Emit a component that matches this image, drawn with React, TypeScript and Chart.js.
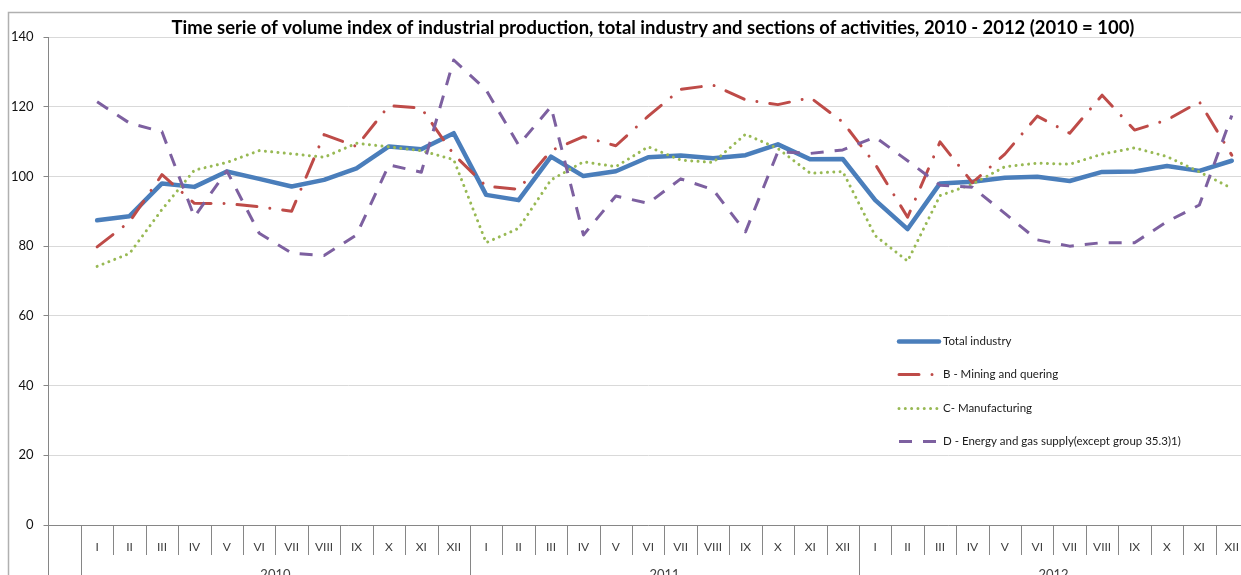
import React, { useEffect, useRef } from "react";
import { Chart, registerables } from "chart.js";

Chart.register(...registerables);

const TITLE =
  "Time serie of volume index of industrial production, total industry and sections of activities, 2010 - 2012 (2010 = 100)";

const months = ["I", "II", "III", "IV", "V", "VI", "VII", "VIII", "IX", "X", "XI", "XII"];
const years = ["2010", "2011", "2012"];
const categories = ["", ...months, ...months, ...months];

const yTicks = [0, 20, 40, 60, 80, 100, 120, 140];

const totalIndustry = [
  null,
  87.4, 88.6, 98.0, 97.0, 101.4, 99.3, 97.1, 99.0, 102.3, 108.6, 107.8, 112.4,
  94.7, 93.2, 105.7, 100.1, 101.5, 105.5, 106.0, 105.2, 106.1, 109.2, 104.9, 105.0,
  93.2, 84.9, 98.0, 98.5, 99.6, 99.9, 98.7, 101.3, 101.4, 103.0, 101.6, 104.5,
];
const mining = [
  null,
  79.8, 87.0, 100.5, 92.3, 92.2, 91.3, 90.0, 112.0, 108.6, 120.3, 119.6, 106.3,
  97.2, 96.3, 107.4, 111.4, 108.8, 117.3, 125.0, 126.2, 122.0, 120.6, 122.6, 115.6,
  103.5, 88.3, 109.9, 98.2, 106.4, 117.3, 112.4, 123.3, 113.3, 116.2, 121.4, 106.1,
];
const manufacturing = [
  null,
  74.2, 77.9, 90.5, 101.8, 104.0, 107.4, 106.5, 105.5, 109.5, 108.5, 107.4, 104.8,
  81.0, 85.1, 99.0, 104.2, 102.8, 108.5, 104.7, 104.0, 112.1, 108.0, 100.9, 101.4,
  83.0, 75.7, 94.5, 97.8, 102.8, 103.8, 103.5, 106.4, 108.2, 105.7, 101.3, 96.6,
];
const energy = [
  null,
  121.4, 115.3, 112.8, 88.4, 101.6, 83.7, 78.0, 77.3, 83.2, 103.3, 101.2, 133.4,
  124.8, 109.0, 120.0, 83.2, 94.4, 92.3, 99.3, 96.2, 84.1, 107.1, 106.6, 107.6,
  111.3, 104.5, 97.5, 96.9, 89.4, 81.8, 80.0, 81.0, 81.0, 87.0, 91.8, 117.5,
];

const seriesLabels = [
  "Total industry",
  "B - Mining and quering",
  "C- Manufacturing",
  "D - Energy and gas supply(except group 35.3)1)",
];

const CANVAS_W = 1260;
const CANVAS_H = 600;
const AXIS_COLOR = "#868686";
const FONT = "Lato, 'Open Sans', sans-serif";

const decorPlugin = {
  id: "decor",
  afterDraw(chart: any) {
    const ctx = chart.ctx;
    const xs = chart.scales.x;
    const area = chart.chartArea;
    const w = xs.getPixelForValue(1) - xs.getPixelForValue(0);
    const x0 = xs.getPixelForValue(0) - w / 2;
    ctx.save();

    // category separators
    ctx.strokeStyle = AXIS_COLOR;
    ctx.lineWidth = 1;
    ctx.setLineDash([]);
    for (let i = 0; i <= categories.length; i++) {
      const bx = Math.round(x0 + i * w) + 0.5;
      const long = i === 0 || (i >= 1 && (i - 1) % 12 === 0);
      ctx.beginPath();
      ctx.moveTo(bx, area.bottom);
      ctx.lineTo(bx, long ? chart.height : area.bottom + 30);
      ctx.stroke();
    }

    // month labels
    ctx.fillStyle = "#404040";
    ctx.font = `12px ${FONT}`;
    ctx.textAlign = "center";
    ctx.textBaseline = "middle";
    categories.forEach((l, i) => {
      if (l) ctx.fillText(l, xs.getPixelForValue(i), area.bottom + 22);
    });

    // year labels
    ctx.textBaseline = "top";
    ctx.font = `13px ${FONT}`;
    years.forEach((yr, k) => {
      const s = 1 + k * 12;
      const cx = (xs.getPixelForValue(s) + xs.getPixelForValue(s + 11)) / 2;
      ctx.fillText(yr, cx, area.bottom + 43);
    });

    // outer border
    ctx.strokeStyle = "#b0b0b0";
    ctx.lineWidth = 1.5;
    ctx.beginPath();
    ctx.moveTo(8.5, chart.height);
    ctx.lineTo(8.5, 12.5);
    ctx.lineTo(chart.width, 12.5);
    ctx.stroke();

    // title
    ctx.fillStyle = "#000";
    ctx.textBaseline = "middle";
    ctx.textAlign = "center";
    let size = 17;
    ctx.font = `bold ${size}px ${FONT}`;
    const mw = ctx.measureText(TITLE).width;
    size = Math.max(14, Math.min(19, (size * 964) / mw));
    ctx.font = `bold ${size.toFixed(2)}px ${FONT}`;
    ctx.fillText(TITLE, 653, 28);

    // legend
    const rows = [341.5, 374.5, 408.5, 441.5];
    ctx.textAlign = "left";
    ctx.font = `11.5px ${FONT}`;
    chart.data.datasets.forEach((ds: any, i: number) => {
      const y = rows[i];
      ctx.save();
      ctx.strokeStyle = ds.borderColor;
      ctx.lineWidth = ds.borderWidth;
      ctx.lineCap = ds.borderCapStyle || "butt";
      ctx.setLineDash(ds.borderDash || []);
      ctx.beginPath();
      ctx.moveTo(899, y);
      ctx.lineTo(939, y);
      ctx.stroke();
      ctx.restore();
      ctx.fillStyle = "#1a1a1a";
      ctx.fillText(ds.label, 943, y);
    });

    ctx.restore();
  },
};

export default function App() {
  const ref = useRef<HTMLCanvasElement>(null);

  useEffect(() => {
    if (!ref.current) return;
    const chart = new Chart(ref.current, {
      type: "line",
      data: {
        labels: categories,
        datasets: [
          {
            label: seriesLabels[0],
            data: totalIndustry,
            borderColor: "#4A7EBB",
            borderWidth: 4.5,
            borderJoinStyle: "round",
            borderCapStyle: "round",
            pointRadius: 0,
            tension: 0,
            order: 3,
          },
          {
            label: seriesLabels[1],
            data: mining,
            borderColor: "#BE4B48",
            borderWidth: 3,
            borderDash: [20, 13, 0.01, 13],
            borderJoinStyle: "round",
            borderCapStyle: "round",
            pointRadius: 0,
            tension: 0,
            order: 2,
          },
          {
            label: seriesLabels[2],
            data: manufacturing,
            borderColor: "#98B954",
            borderWidth: 3,
            borderDash: [0.01, 6.3],
            borderJoinStyle: "round",
            borderCapStyle: "round",
            pointRadius: 0,
            tension: 0,
            order: 1,
          },
          {
            label: seriesLabels[3],
            data: energy,
            borderColor: "#7D60A0",
            borderWidth: 3,
            borderDash: [13, 11],
            borderJoinStyle: "round",
            borderCapStyle: "butt",
            pointRadius: 0,
            tension: 0,
            order: 0,
          },
        ],
      } as any,
      options: {
        responsive: false,
        animation: false,
        devicePixelRatio: 1,
        layout: { padding: { left: 0, top: 37, right: CANVAS_W - 1248, bottom: CANVAS_H - 525 } },
        plugins: {
          legend: { display: false },
          title: { display: false },
          tooltip: { enabled: false },
        },
        scales: {
          x: {
            type: "category",
            offset: true,
            grid: { display: false },
            ticks: { display: false },
            border: { display: true, color: AXIS_COLOR, width: 1 },
            afterFit: (s: any) => {
              s.height = 0;
            },
          },
          y: {
            min: 0,
            max: 140,
            afterBuildTicks: (s: any) => {
              s.ticks = yTicks.map((v) => ({ value: v }));
            },
            afterFit: (s: any) => {
              s.width = 48.5;
            },
            grid: {
              color: "#d9d9d9",
              lineWidth: 1,
              drawTicks: true,
              tickLength: 5,
              tickColor: AXIS_COLOR,
            },
            border: { display: true, color: AXIS_COLOR, width: 1 },
            ticks: {
              color: "#111",
              padding: 10,
              font: { family: FONT, size: 13 },
            },
          },
        },
      } as any,
      plugins: [decorPlugin],
    });
    return () => chart.destroy();
  }, []);

  return (
    <div
      style={{
        position: "fixed",
        left: 0,
        top: 0,
        width: 1241,
        height: 575,
        overflow: "hidden",
        background: "#fff",
      }}
    >
      <canvas
        ref={ref}
        width={CANVAS_W}
        height={CANVAS_H}
        style={{ display: "block", width: CANVAS_W, height: CANVAS_H }}
      />
    </div>
  );
}
